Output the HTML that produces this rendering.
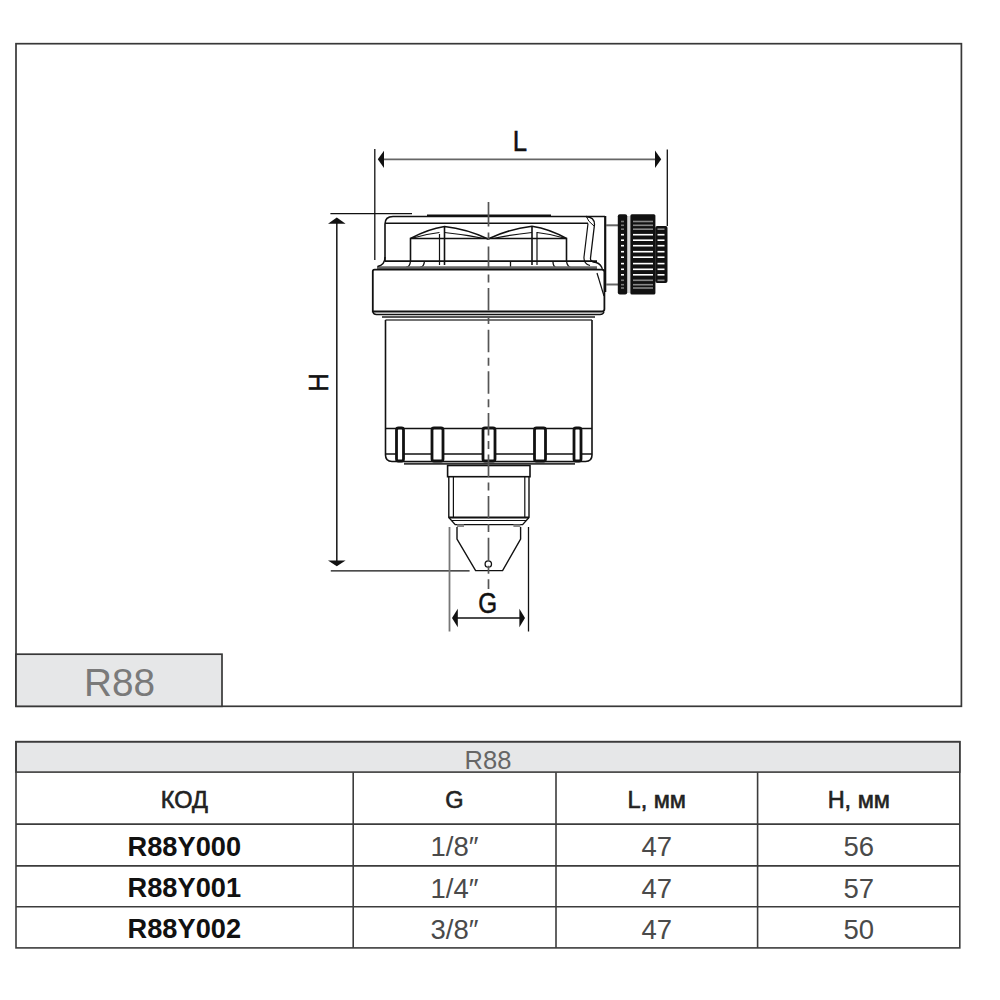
<!DOCTYPE html>
<html><head><meta charset="utf-8">
<style>
html,body{margin:0;padding:0;background:#fff;width:1000px;height:1000px;overflow:hidden}
svg{display:block;position:absolute;left:0;top:0}
text{font-family:"Liberation Sans",sans-serif}
</style></head><body>
<svg width="1000" height="1000" viewBox="0 0 1000 1000">
<!-- frame -->
<rect x="16" y="43.7" width="945.4" height="662.6" fill="none" stroke="#383838" stroke-width="1.7"/>
<rect x="16" y="654.2" width="206" height="52.1" fill="#e6e7e8" stroke="#383838" stroke-width="1.7"/>
<text x="84" y="695.6" font-size="38" fill="#7a7a7a" textLength="71" lengthAdjust="spacingAndGlyphs">R88</text>

<!-- table -->
<g stroke="#3c3c3c" stroke-width="1.6" fill="none">
<rect x="16" y="741.7" width="943.8" height="30.4" fill="#e6e7e8"/>
<rect x="16" y="741.7" width="943.8" height="206.2"/>
<line x1="16" y1="824.1" x2="959.8" y2="824.1"/>
<line x1="16" y1="865.9" x2="959.8" y2="865.9"/>
<line x1="16" y1="906.8" x2="959.8" y2="906.8"/>
<line x1="353.2" y1="772.2" x2="353.2" y2="948"/>
<line x1="556" y1="772.2" x2="556" y2="948"/>
<line x1="757.6" y1="772.2" x2="757.6" y2="948"/>
</g>
<g text-anchor="middle">
<text x="488" y="768.6" font-size="25.5" fill="#666">R88</text>
<text x="184.3" y="808" font-size="23.5" fill="#222" stroke="#222" stroke-width="0.6">КОД</text>
<text x="454.5" y="808" font-size="23.5" fill="#222" stroke="#222" stroke-width="0.6">G</text>
<text x="656.8" y="808" font-size="23.5" fill="#222" stroke="#222" stroke-width="0.6">L, мм</text>
<text x="858.8" y="808" font-size="23.5" fill="#222" stroke="#222" stroke-width="0.6">H, мм</text>

<text x="184.3" y="855.5" font-size="27" font-weight="bold" fill="#111" textLength="113.5" lengthAdjust="spacingAndGlyphs">R88Y000</text>
<text x="184.3" y="897" font-size="27" font-weight="bold" fill="#111" textLength="113.5" lengthAdjust="spacingAndGlyphs">R88Y001</text>
<text x="184.3" y="938" font-size="27" font-weight="bold" fill="#111" textLength="113.5" lengthAdjust="spacingAndGlyphs">R88Y002</text>
<g font-size="27.5" fill="#4a4a4a">
<text x="454.5" y="856">1/8″</text>
<text x="454.5" y="897.6">1/4″</text>
<text x="454.5" y="938.6">3/8″</text>
<text x="656.8" y="856">47</text>
<text x="656.8" y="897.6">47</text>
<text x="656.8" y="938.6">47</text>
<text x="858.8" y="856">56</text>
<text x="858.8" y="897.6">57</text>
<text x="858.8" y="938.6">50</text>
</g>
</g>

<!-- DRAWING -->
<g id="drawing">
<!-- dimension L -->
<g stroke="#111" fill="none" stroke-width="1.3">
<line x1="374.8" y1="149" x2="374.8" y2="260"/>
<line x1="667.3" y1="149.5" x2="667.3" y2="226"/>
<line x1="330.4" y1="213.6" x2="412" y2="213.6"/>
<line x1="330.8" y1="570.8" x2="469.6" y2="570.8"/>
</g>
<line x1="383" y1="159.3" x2="656" y2="159.3" stroke="#666" stroke-width="1.8"/>
<polygon points="377.8,159.3 384,150.8 384,168" fill="#111"/>
<polygon points="661.2,159.3 655,150.4 655,168" fill="#111"/>
<text transform="translate(520,150.8) scale(0.92,1.06)" font-size="28" fill="#111" stroke="#111" stroke-width="0.5" text-anchor="middle">L</text>
<!-- H -->
<line x1="336.8" y1="222" x2="336.8" y2="562" stroke="#222" stroke-width="1.6"/>
<polygon points="336.8,217.4 328,223.8 345.6,223.8" fill="#111"/>
<polygon points="336.8,566.2 328,560.6 345.6,560.6" fill="#111"/>
<text transform="translate(327.9,382.4) rotate(-90) scale(0.96,1.04)" font-size="27" fill="#111" stroke="#111" stroke-width="0.5" text-anchor="middle">H</text>
<!-- G -->
<line x1="449.5" y1="527" x2="449.5" y2="631.5" stroke="#777" stroke-width="1.8"/>
<line x1="528.5" y1="527" x2="528.5" y2="631.5" stroke="#111" stroke-width="1.3"/>
<line x1="456" y1="618" x2="522" y2="618" stroke="#111" stroke-width="1.6"/>
<polygon points="452,618 457.8,608.8 457.8,627.2" fill="#111"/>
<polygon points="525,618 519.4,608.8 519.4,627.2" fill="#111"/>
<text transform="translate(487.6,612.8) scale(0.9,1.06)" font-size="27" fill="#111" stroke="#111" stroke-width="0.5" text-anchor="middle">G</text>

<!-- body -->
<g stroke="#111" fill="none" stroke-width="1.6">
<!-- cap -->
<path d="M385,261 V224 Q385,216.5 393,216.5 H605"/>
<path d="M427,215.8 H551" stroke-width="2.4"/>
<line x1="385" y1="223.2" x2="588" y2="223.2"/>
<line x1="385" y1="261.1" x2="597" y2="261.1"/>
<!-- hex -->
<path d="M410.5,261 V238.5 H566.5 V261"/>
<path d="M410.5,238.5 Q428,229 444.5,226.5 Q467,229 488,239 Q509,229 532,226.2 Q550,229 566.5,238.5"/>
<path d="M413,238 Q426,234 439.5,232.5 M444.5,232.5 Q465,234.5 484,238.5 M493,238.5 Q512,234.5 532,232.5 M537,232.5 Q551,234 564,238" stroke-width="1.1"/>
<line x1="444.5" y1="226" x2="444.5" y2="265"/>
<line x1="439.5" y1="234" x2="439.5" y2="265" stroke-width="1.2"/>
<line x1="532" y1="226" x2="532" y2="265"/>
<line x1="537" y1="232" x2="537" y2="265" stroke-width="1.2"/>
<!-- bottom strip of cap -->
<path d="M410.5,261 Q410,267 406,267.5 M424.5,261 Q424,267 420,267.5 M510.5,262 V268 M553,262 Q553,267 557,268 M566.5,261 Q567,267 572,268" stroke-width="1.3"/>
<path d="M377,267.6 H597" stroke="#666" stroke-width="2.6"/>
<!-- right bracket on cap -->
<path d="M586,216.5 Q594.5,217 594.5,224.5 L590.5,258 Q590,262 596,262.5 Q601.5,264 602.5,270" stroke-width="1.3"/>
<path d="M588,223.5 L584,257 Q583.5,263.5 590,265.5" stroke-width="1.2"/>
<path d="M586.5,216.8 Q587.5,221 594,226" stroke-width="1"/>
<path d="M605.2,216 V292" stroke-width="2.2"/>
<!-- ring -->
<path d="M374.5,269.6 H602 Q604.4,269.6 604.4,272 V309 Q604.4,311.5 602,311.5 H372.8 V271.5 Q372.8,269.6 374.5,269.6 Z" stroke-width="1.8"/>
<path d="M385,257 Q385,265 377.5,266.5" stroke-width="1.4"/>
<path d="M597,273 L604,296" stroke-width="1.2"/>
<path d="M373,312 Q373.5,314.5 376.5,314.5 H600 Q603,314.5 604,312" stroke-width="1.4"/>
<line x1="382" y1="317" x2="595" y2="317" stroke="#555" stroke-width="2"/>
<line x1="385.5" y1="320" x2="592" y2="320" stroke="#444" stroke-width="1.3"/>
<!-- lower body -->
<path d="M385.5,320 V455 Q385.5,461.5 392,461.5 H585.5 Q592,461.5 592,455 V320"/>
<line x1="385.5" y1="428.5" x2="592" y2="428.5"/>
<line x1="385.5" y1="454" x2="592" y2="454"/>
<path d="M404,463.8 H575" stroke="#333" stroke-width="2"/>
</g>
<!-- bumps -->
<g stroke="#111" fill="#fff" stroke-width="2.8">
<rect x="396.5" y="428" width="7" height="33" rx="2"/>
<rect x="432" y="428" width="11" height="33" rx="2"/>
<rect x="483" y="428" width="12" height="33" rx="2"/>
<rect x="534.5" y="428" width="11" height="33" rx="2"/>
<rect x="574" y="428" width="7" height="33" rx="2"/>
</g>
<line x1="488.5" y1="428" x2="488.5" y2="461" stroke="#fff" stroke-width="0"/>
<!-- neck -->
<g stroke="#111" fill="none" stroke-width="1.4">
<rect x="447.6" y="465.5" width="82.4" height="11.2" stroke-width="1.6"/>
<path d="M448.8,476.7 V517.4 L455.2,524.6 H522.6 L529,517.4 V476.7"/>
<line x1="453.4" y1="477" x2="453.4" y2="517" stroke-width="1.2"/>
<line x1="524.8" y1="477" x2="524.8" y2="517" stroke-width="1.2"/>
<line x1="448.8" y1="517.6" x2="529" y2="517.6" stroke-width="2"/>
<line x1="451" y1="520.5" x2="527" y2="520.5" stroke-width="1"/>
<path d="M457,527 V539 L475.6,570.6 H502.6 L520.6,539 V527"/>
<circle cx="488.3" cy="564" r="3.2" stroke-width="1.3" fill="#fff"/>
</g>
<rect x="457" y="524.4" width="7" height="2.6" fill="#888"/>
<rect x="513.4" y="524.4" width="7" height="2.6" fill="#888"/>
<!-- connector -->
<g stroke="#666" stroke-width="2">
<line x1="606" y1="225.3" x2="618.5" y2="225.3"/>
<line x1="606" y1="284.5" x2="618.5" y2="284.5"/>
</g>
<rect x="626" y="216" width="5" height="77" fill="#d8d8d8"/>
<rect x="617.8" y="214.3" width="9.4" height="80.3" rx="2" fill="#111"/>
<rect x="630.4" y="214.3" width="25" height="80.3" rx="1.5" fill="#111"/>
<rect x="655.2" y="225.9" width="12.3" height="57.1" rx="2" fill="#111"/>
<!-- centerline -->
<g stroke="#555" stroke-width="1.7"><line x1="488.5" y1="202" x2="488.5" y2="226.5"/><line x1="488.5" y1="232.5" x2="488.5" y2="240"/><line x1="488.5" y1="246.5" x2="488.5" y2="589" stroke-dasharray="22.5 5.5 8 5.6"/></g>
<g id="knurl">
<rect x="633" y="233.9" width="20" height="1.6" fill="#fff"/>
<rect x="621" y="233.9" width="3" height="1.6" fill="#fff"/>
<rect x="657.5" y="233.9" width="7" height="1.6" fill="#fff"/>
<rect x="633" y="239.4" width="20" height="1.6" fill="#fff"/>
<rect x="621" y="239.4" width="3" height="1.6" fill="#fff"/>
<rect x="657.5" y="239.4" width="7" height="1.6" fill="#fff"/>
<rect x="633" y="244.9" width="20" height="1.6" fill="#fff"/>
<rect x="621" y="244.9" width="3" height="1.6" fill="#fff"/>
<rect x="657.5" y="244.9" width="7" height="1.6" fill="#fff"/>
<rect x="633" y="250.9" width="20" height="1.6" fill="#fff"/>
<rect x="621" y="250.9" width="3" height="1.6" fill="#fff"/>
<rect x="657.5" y="250.9" width="7" height="1.6" fill="#fff"/>
<rect x="633" y="256.4" width="20" height="1.6" fill="#fff"/>
<rect x="621" y="256.4" width="3" height="1.6" fill="#fff"/>
<rect x="657.5" y="256.4" width="7" height="1.6" fill="#fff"/>
<rect x="633" y="262.8" width="20" height="1.6" fill="#fff"/>
<rect x="621" y="262.8" width="3" height="1.6" fill="#fff"/>
<rect x="657.5" y="262.8" width="7" height="1.6" fill="#fff"/>
<rect x="633" y="268.5" width="20" height="1.6" fill="#fff"/>
<rect x="621" y="268.5" width="3" height="1.6" fill="#fff"/>
<rect x="657.5" y="268.5" width="7" height="1.6" fill="#fff"/>
<rect x="633" y="274.0" width="20" height="1.6" fill="#fff"/>
<rect x="621" y="274.0" width="3" height="1.6" fill="#fff"/>
<rect x="657.5" y="274.0" width="7" height="1.6" fill="#fff"/>
<rect x="633" y="220.7" width="20" height="1.6" fill="#888"/>
<rect x="621" y="220.7" width="3" height="1.6" fill="#777"/>
<rect x="633" y="224.5" width="20" height="1.6" fill="#888"/>
<rect x="621" y="224.5" width="3" height="1.6" fill="#777"/>
<rect x="633" y="228.4" width="20" height="1.6" fill="#888"/>
<rect x="621" y="228.4" width="3" height="1.6" fill="#777"/>
<rect x="633" y="279.5" width="20" height="1.6" fill="#888"/>
<rect x="621" y="279.5" width="3" height="1.6" fill="#777"/>
<rect x="633" y="283.9" width="20" height="1.6" fill="#888"/>
<rect x="621" y="283.9" width="3" height="1.6" fill="#777"/>
<rect x="633" y="287.2" width="20" height="1.6" fill="#888"/>
<rect x="621" y="287.2" width="3" height="1.6" fill="#777"/>
<rect x="657.5" y="228.4" width="7" height="1.6" fill="#888"/>
<rect x="657.5" y="279.5" width="7" height="1.6" fill="#888"/>
</g>
</g>

</svg>
</body></html>
